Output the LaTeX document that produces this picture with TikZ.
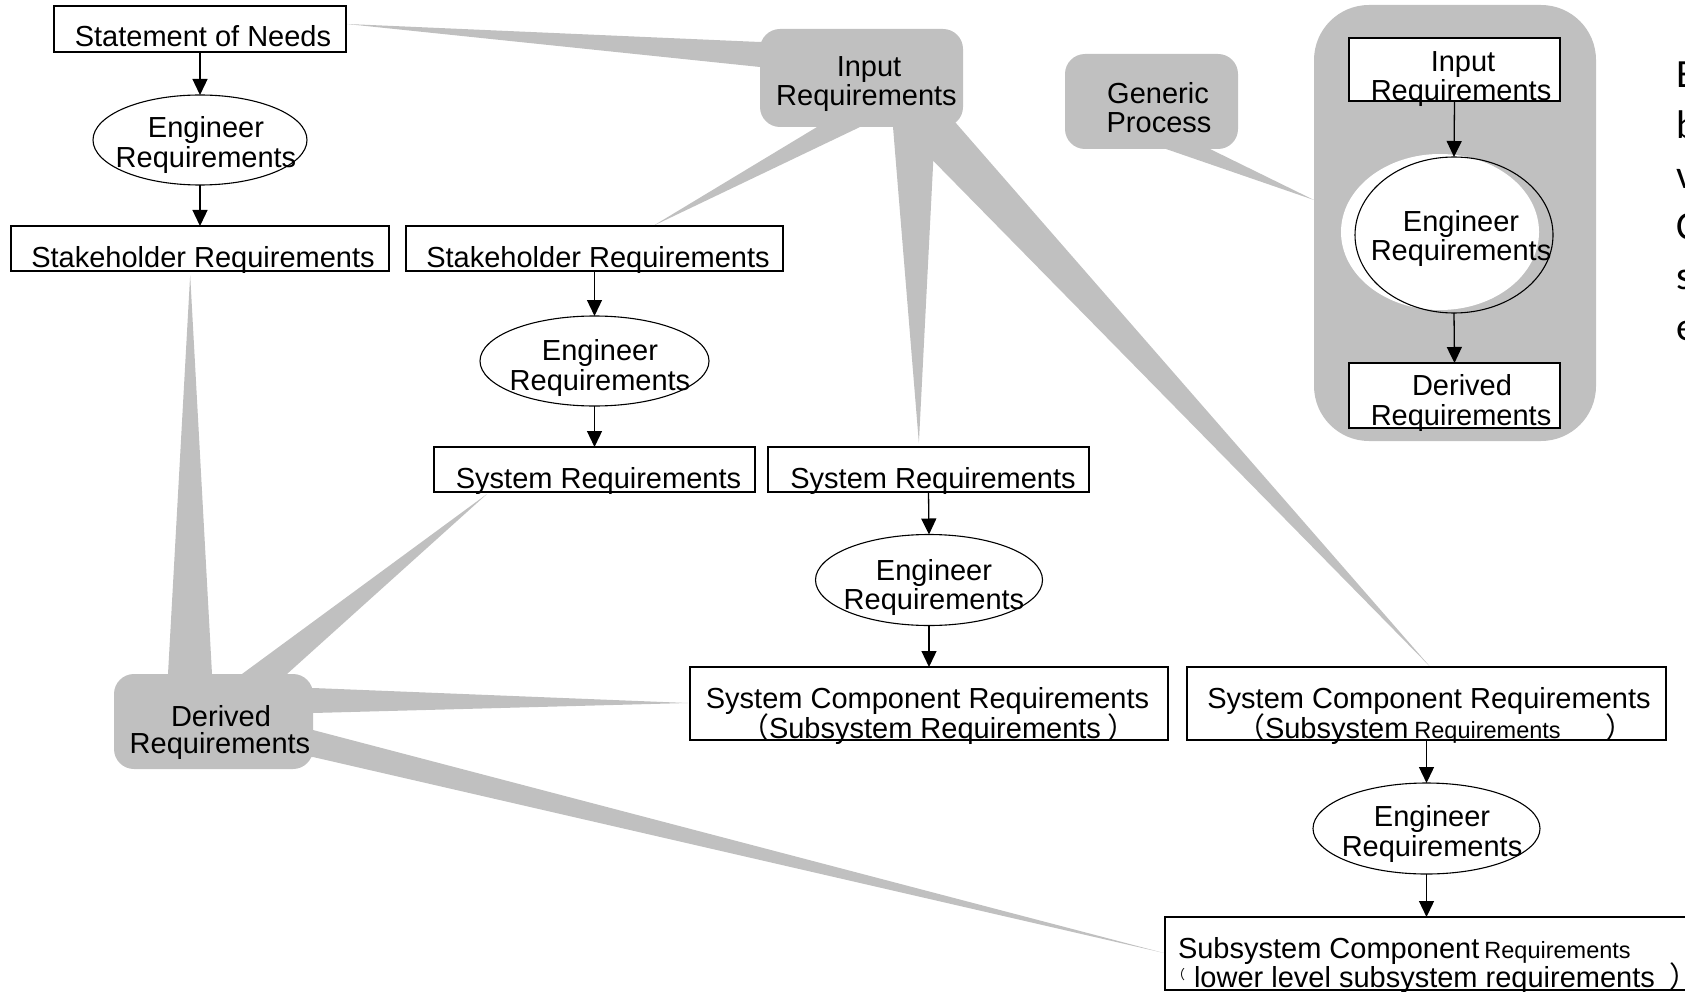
\documentclass[tikz,border=0pt]{standalone}
\usepackage{fontspec}
\setmainfont{Liberation Sans}
\newfontfamily\cjkfont{Noto Sans CJK SC}
\newfontfamily\sidefont{Carlito}
\usetikzlibrary{shapes.geometric,arrows.meta,calc,backgrounds}
\definecolor{calloutgray}{HTML}{C0C0C0}
\newcommand\lab{\fontsize{29}{29}\selectfont}
\newcommand\labsmall{\fontsize{23.5}{23.5}\selectfont}
\newcommand\sidesize{\fontsize{40}{40}\selectfont}

\begin{document}
\begin{tikzpicture}[x=1pt,y=-1pt,
  box/.style={draw, fill=white, line width=1.3pt, inner sep=0pt, outer sep=0pt},
  oval/.style={ellipse, draw, line width=1.1pt, inner sep=0pt, outer sep=0pt},
  txt/.style={anchor=base, inner sep=0pt, outer sep=0pt, font=\lab},
  txtw/.style={anchor=base west, inner sep=0pt, outer sep=0pt, font=\lab},
  flow/.style={line width=1.3pt, -{Triangle[length=16pt,width=15pt]}},
  callout/.style={fill=calloutgray, draw=none, rounded corners=20pt, inner sep=0pt, outer sep=0pt},
  wedge/.style={fill=calloutgray, draw=none},
]
\useasboundingbox (0,0) rectangle (1685,992);
\clip (0,0) rectangle (1685,992);

% ---------- callout bodies (background layer) ----------
\begin{pgfonlayer}{background}
  \node[callout, minimum width=203pt, minimum height=98pt] (cin) at (861.5,78) {};
  \node[callout, minimum width=173pt, minimum height=95pt] (cgen) at (1151.5,101.5) {};
  \node[callout, minimum width=199pt, minimum height=95pt] (cder) at (213.5,721.5) {};
  \node[callout, rounded corners=55pt, minimum width=282pt, minimum height=436pt] (container) at (1455,223) {};
\end{pgfonlayer}

% ---------- left chain ----------
\node[box, minimum width=292pt, minimum height=46pt] (sn) at (200,29) {};
\node[oval, minimum width=214pt, minimum height=90pt] (e1) at (200,140) {};
\node[box, minimum width=378pt, minimum height=45pt] (sh1) at (200,248.5) {};

% ---------- middle chain ----------
\node[box, minimum width=377pt, minimum height=45pt] (sh2) at (594.5,248.5) {};
\node[oval, minimum width=229pt, minimum height=90pt] (e2) at (594.5,361) {};
\node[box, minimum width=321pt, minimum height=45pt] (sr1) at (594.5,469.5) {};

% ---------- right chain ----------
\node[box, minimum width=321pt, minimum height=45pt] (sr2) at (928.5,469.5) {};
\node[oval, minimum width=227pt, minimum height=91pt] (e3) at (929,580) {};
\node[box, minimum width=478pt, minimum height=73pt] (sc1) at (929,703.5) {};
\node[box, minimum width=479pt, minimum height=73pt] (sc2) at (1426.5,703.5) {};
\node[oval, minimum width=227pt, minimum height=91pt] (e4) at (1426.5,828.5) {};
\node[box, minimum width=555pt, minimum height=73pt] (ssc) at (1442.5,953.5) {};

% ---------- generic process ----------
\node[box, minimum width=211pt, minimum height=63pt] (inbox) at (1454.5,69.5) {};
\fill[white] (1440,232) ellipse [x radius=99, y radius=78];
\node[oval, minimum width=198pt, minimum height=156pt] (e5) at (1454,235) {};
\node[box, minimum width=211pt, minimum height=65pt] (dbox) at (1454.5,395.5) {};

% ---------- flow arrows ----------
\draw[flow] (sn.south) -- (e1.north);
\draw[flow] (e1.south) -- (sh1.north);
\draw[flow] (sh2.south) -- (e2.north);
\draw[flow] (e2.south) -- (sr1.north);
\draw[flow] (sr2.south) -- (e3.north);
\draw[flow] (e3.south) -- (sc1.north);
\draw[flow] (sc2.south) -- (e4.north);
\draw[flow] (e4.south) -- (e4.south |- ssc.north);
\draw[flow] (inbox.south) -- (e5.north);
\draw[flow] (e5.south) -- (dbox.north);

% ---------- callout pointers ----------
\begin{pgfonlayer}{background}
  % Input Requirements
  \fill[wedge] (760,42) -- ($(sn.north east)!0.39!(sn.south east)$) -- (760,67) -- (775,67) -- (775,42) -- cycle;
  \fill[wedge] (817,127) -- ($(sh2.north west)!0.655!(sh2.north east)$) -- (860,127) -- (860,115) -- (817,115) -- cycle;
  \fill[wedge] (893,127) -- ($(sr2.north west)!0.47!(sr2.north east)+(0,-4)$) -- (935,127) -- (935,115) -- (893,115) -- cycle;
  \fill[wedge] (900,127) -- ($(sc2.north west)!0.508!(sc2.north east)$) -- (955,122) -- (945,110) -- (900,110) -- cycle;
  % Generic Process
  \fill[wedge] (1166,149) -- ($(container.west)+(0,-23)$) -- (1210,149) -- (1210,135) -- (1166,135) -- cycle;
  % Derived Requirements
  \fill[wedge] (168,674) -- ($(sh1.south west)!0.474!(sh1.south east)+(0,4)$) -- (212,674) -- (212,690) -- (168,690) -- cycle;
  \fill[wedge] (242,674) -- ($(sr1.south west)!0.165!(sr1.south east)+(0,2)$) -- (287,674) -- (287,690) -- (242,690) -- cycle;
  \fill[wedge] (313,688) -- ($(sc1.west)+(-2,-0.5)$) -- (313,713) -- (300,713) -- (300,688) -- cycle;
  \fill[wedge] (313,730) -- ($(ssc.west)+(-1,-0.5)$) -- (313,757) -- (300,757) -- (300,730) -- cycle;
\end{pgfonlayer}

% ---------- labels ----------
\node[txt] (sn-t) at (203,46.5) {Statement of Needs};
\node[txt] (e1-a) at (206,137.5) {Engineer};
\node[txt] (e1-b) at (206,167.5) {Requirements};
\node[txt] (sh1-t) at (203,267.5) {Stakeholder Requirements};
\node[txt] (sh2-t) at (598,267.5) {Stakeholder Requirements};
\node[txt] (e2-a) at (600,360) {Engineer};
\node[txt] (e2-b) at (600,390) {Requirements};
\node[txt] (sr1-t) at (598.5,488) {System Requirements};
\node[txt] (sr2-t) at (933,488) {System Requirements};
\node[txt] (e3-a) at (934,580) {Engineer};
\node[txt] (e3-b) at (934,609) {Requirements};
\node[txt] (sc1-a) at (927.5,708) {System Component Requirements};
\node[txtw] (sc1-b) at (740,738) {{\cjkfont （}Subsystem Requirements\hspace{6pt}{\cjkfont ）}};
\node[txt] (sc2-a) at (1429,708) {System Component Requirements};
\node[txtw] (sc2-b) at (1236,738) {{\cjkfont （}Subsystem\hspace{6pt}{\labsmall Requirements}\hspace{45pt}{\cjkfont ）}};
\node[txt] (e4-a) at (1432,826) {Engineer};
\node[txt] (e4-b) at (1432,856) {Requirements};
\node[txtw] (ssc-a) at (1178,958.5) {Subsystem Component\hspace{5pt}{\labsmall Requirements}};
\node[txtw] (ssc-b) at (1172,987.5) {\raisebox{8pt}{\fontsize{13}{13}\selectfont\cjkfont （}\hspace{9pt}lower level subsystem requirements\hspace{15pt}{\cjkfont ）}};

\node[txt] (cin-a) at (869,77) {Input};
\node[txt] (cin-b) at (866.5,106) {Requirements};
\node[txt] (cgen-a) at (1158,104) {Generic};
\node[txt] (cgen-b) at (1159,133) {Process};
\node[txt] (cder-a) at (221,726) {Derived};
\node[txt] (cder-b) at (220,753) {Requirements};

\node[txt] (inbox-a) at (1463,72) {Input};
\node[txt] (inbox-b) at (1461,101) {Requirements};
\node[txt] (e5-a) at (1461,232) {Engineer};
\node[txt] (e5-b) at (1461,261) {Requirements};
\node[txt] (dbox-a) at (1462,395.5) {Derived};
\node[txt] (dbox-b) at (1461,425) {Requirements};

% ---------- side text running past the right edge ----------
\foreach \ch [count=\i] in {E,b,v,C,s,e}
  \node[anchor=base west, inner sep=0pt, font=\sidefont\sidesize] (side\i) at (1676,{88+50.4*(\i-1)}) {\ch};

\end{tikzpicture}
\end{document}
